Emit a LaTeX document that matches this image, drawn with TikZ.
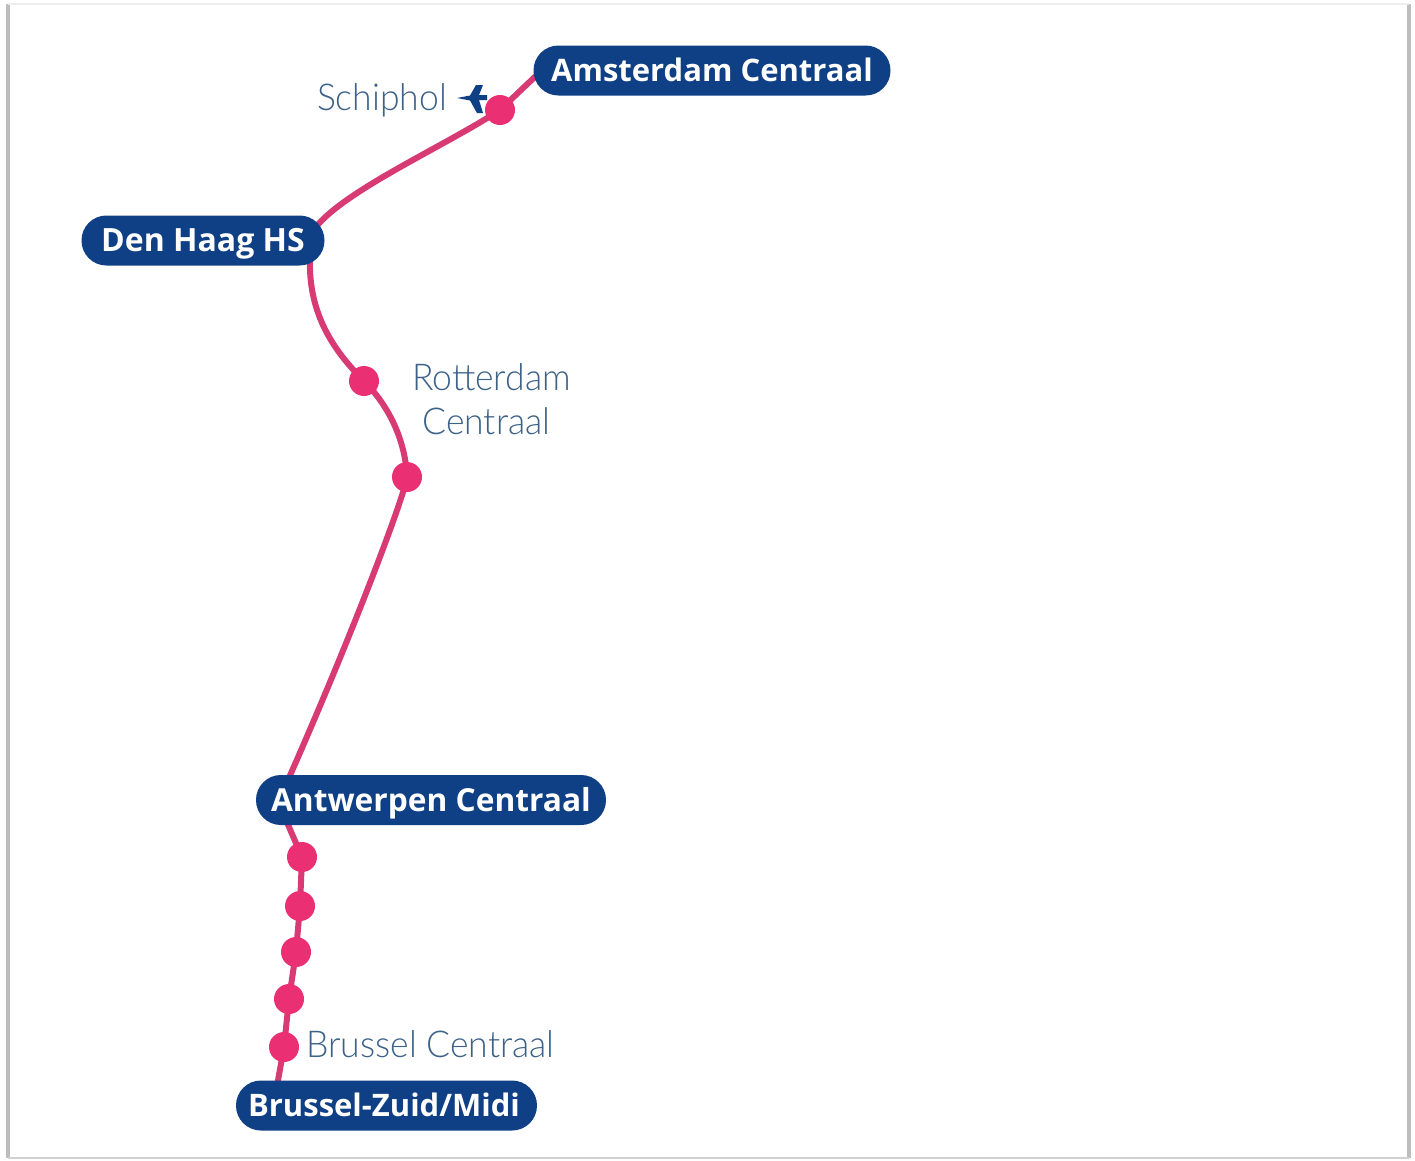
\documentclass[tikz,border=0pt]{standalone}
\usepackage{fontspec}
\usetikzlibrary{backgrounds}
\setmainfont{Open Sans}
\newfontfamily\lightfont[FakeStretch=0.96]{Lato Light}
\definecolor{navy}{HTML}{0F3F85}
\definecolor{pinkline}{HTML}{D83A74}
\definecolor{pinkdot}{HTML}{EA2F72}
\definecolor{labelblue}{HTML}{3C6288}
\definecolor{framegrey}{HTML}{BDBDBD}
\tikzset{
  pill/.style={fill=navy,text=white,rounded corners=24.9pt,inner sep=0pt,minimum height=50pt,text height=26pt,text depth=4pt,font=\bfseries,anchor=center},
  stopdot/.style={circle,fill=pinkdot,draw=none,minimum size=30pt,inner sep=0pt},
  track/.style={draw=pinkline,line width=6pt},
  stoplabel/.style={text=labelblue,font=\lightfont\fontsize{37}{44}\selectfont,align=center,inner sep=0pt},
  frameedge/.style={draw=framegrey,line width=4pt}
}
\begin{document}
\begin{tikzpicture}[x=1pt,y=-1pt]
\useasboundingbox (0,0) rectangle (1415,1160);
\coordinate (fa) at (8,4);\coordinate (fb) at (8,1158);\coordinate (fc) at (1409,1158);\coordinate (fd) at (1409,4);
\draw[frameedge] (fa) -- (fb);
\draw[frameedge] (fd) -- (fc);
\draw[draw=framegrey!70,line width=1.5pt] (fb) -- (fc);
\draw[draw=framegrey!25,line width=1.5pt] (fa) -- (fd);

\node[stopdot] (schiphol) at (500,110) {};
\node[stopdot] (rotterdam) at (364,381) {};
\node[stopdot] (rotterdamb) at (407,477) {};
\node[stopdot] (s1) at (302,857) {};
\node[stopdot] (s2) at (300,906) {};
\node[stopdot] (s3) at (296,952) {};
\node[stopdot] (s4) at (289,999) {};
\node[stopdot] (s5) at (284,1047) {};

\node[pill,minimum width=357pt] (ams) at (712,70.5) {\fontsize{31}{36}\selectfont Amsterdam Centraal};
\node[pill,minimum width=243pt] (haag) at (203,240.5) {\fontsize{32}{36}\selectfont Den Haag HS};
\node[pill,minimum width=350pt] (antw) at (431,800) {\fontsize{31.7}{36}\selectfont Antwerpen Centraal};
\node[pill,minimum width=301pt] (bru) at (386.5,1105.5) {\fontsize{31}{36}\selectfont Brussel-Zuid/Midi\hspace*{5pt}};

\coordinate (amsw) at (540,72);
\coordinate (haage) at (315,228);
\coordinate (haags) at (310,258);
\coordinate (antwn) at (288,780);
\coordinate (antws) at (286,820);
\coordinate (brun) at (277,1086);

\begin{scope}[on background layer]
\fill[white] (0,0) rectangle (1415,1160);
\draw[track] (amsw) -- (schiphol.center);
\draw[track] (schiphol.center) .. controls (445,146) and (345,190) .. (haage);
\draw[track] (haags) .. controls (308,315) and (335,352) .. (rotterdam.center);
\draw[track] (rotterdam.center) .. controls (385,402) and (405,435) .. (rotterdamb.center);
\draw[track] (rotterdamb.center) .. controls (404,498) and (350,640) .. (antwn);
\draw[track] (antws) -- (s1.center) -- (s2.center) -- (s3.center) -- (s4.center) -- (s5.center) -- (brun);
\end{scope}

\node[stoplabel] (lschiphol) at (382,100) {Schiphol};
\node[stoplabel] (lrotterdam) at (491.5,399) {Rotterdam\\Centraal\hspace*{10pt}};
\node[stoplabel] (lbrussel) at (430.5,1044) {Brussel Centraal};

\fill[navy] (457,98) -- (470,95.5) -- (476,85) -- (483,85) -- (479,95) -- (487,95) -- (487,100) -- (479,100) -- (483,113) -- (477,113) -- (470,100.5) -- cycle;
\end{tikzpicture}
\end{document}
